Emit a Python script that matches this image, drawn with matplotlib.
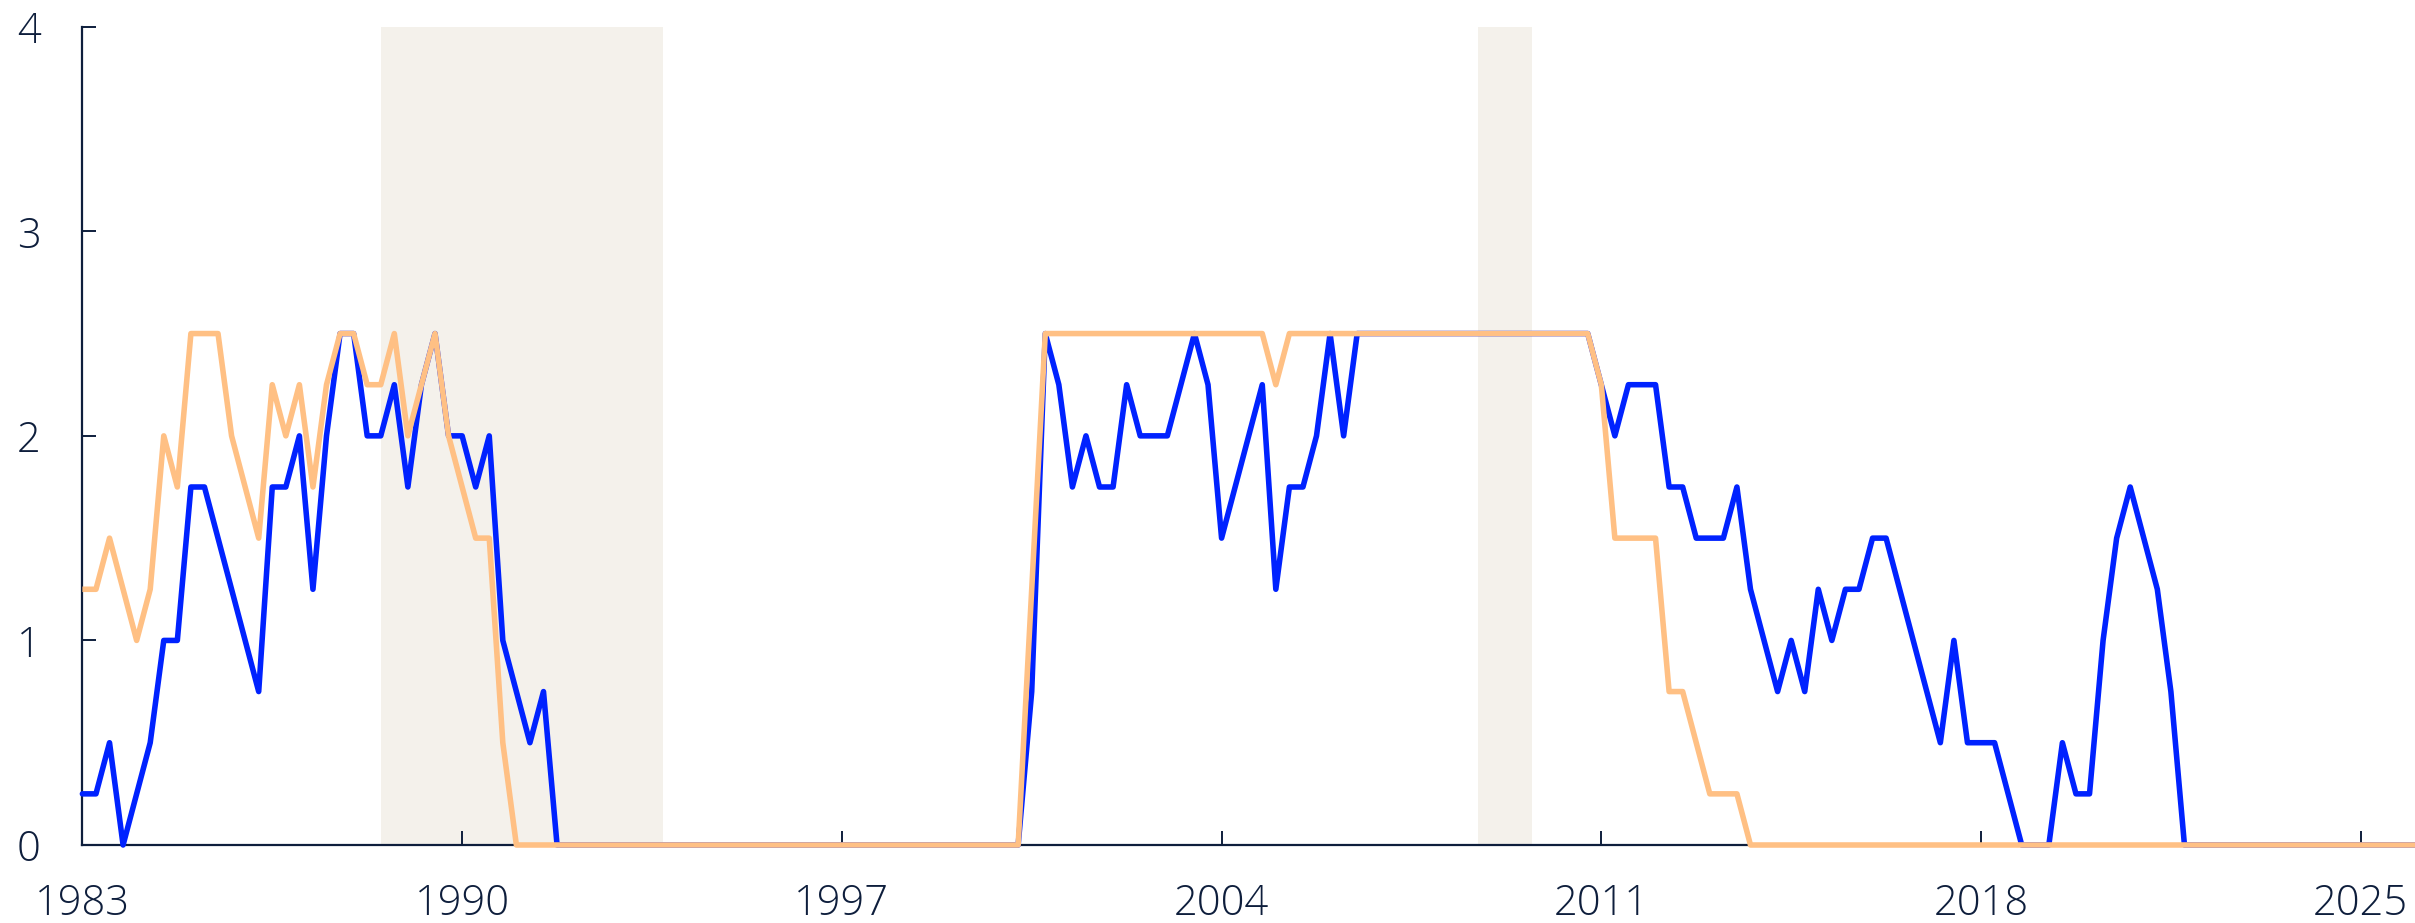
import matplotlib
matplotlib.use("Agg")
import matplotlib.pyplot as plt
import numpy as np

# Quarterly values, 1983 Q1 .. 2026 Q1 (four values per year)
blue_by_year = {
    1983: [0.25, 0.25, 0.5, 0.0],
    1984: [0.25, 0.5, 1.0, 1.0],
    1985: [1.75, 1.75, 1.5, 1.25],
    1986: [1.0, 0.75, 1.75, 1.75],
    1987: [2.0, 1.25, 2.0, 2.5],
    1988: [2.5, 2.0, 2.0, 2.25],
    1989: [1.75, 2.25, 2.5, 2.0],
    1990: [2.0, 1.75, 2.0, 1.0],
    1991: [0.75, 0.5, 0.75, 0.0],
    1992: [0, 0, 0, 0],
    1993: [0, 0, 0, 0],
    1994: [0, 0, 0, 0],
    1995: [0, 0, 0, 0],
    1996: [0, 0, 0, 0],
    1997: [0, 0, 0, 0],
    1998: [0, 0, 0, 0],
    1999: [0, 0, 0, 0],
    2000: [0.0, 0.0, 0.75, 2.5],
    2001: [2.25, 1.75, 2.0, 1.75],
    2002: [1.75, 2.25, 2.0, 2.0],
    2003: [2.0, 2.25, 2.5, 2.25],
    2004: [1.5, 1.75, 2.0, 2.25],
    2005: [1.25, 1.75, 1.75, 2.0],
    2006: [2.5, 2.0, 2.5, 2.5],
    2007: [2.5, 2.5, 2.5, 2.5],
    2008: [2.5, 2.5, 2.5, 2.5],
    2009: [2.5, 2.5, 2.5, 2.5],
    2010: [2.5, 2.5, 2.5, 2.5],
    2011: [2.25, 2.0, 2.25, 2.25],
    2012: [2.25, 1.75, 1.75, 1.5],
    2013: [1.5, 1.5, 1.75, 1.25],
    2014: [1.0, 0.75, 1.0, 0.75],
    2015: [1.25, 1.0, 1.25, 1.25],
    2016: [1.5, 1.5, 1.25, 1.0],
    2017: [0.75, 0.5, 1.0, 0.5],
    2018: [0.5, 0.5, 0.25, 0.0],
    2019: [0.0, 0.0, 0.5, 0.25],
    2020: [0.25, 1.0, 1.5, 1.75],
    2021: [1.5, 1.25, 0.75, 0.0],
    2022: [0, 0, 0, 0],
    2023: [0, 0, 0, 0],
    2024: [0, 0, 0, 0],
    2025: [0, 0, 0, 0],
    2026: [0],
}

orange_by_year = {
    1983: [1.25, 1.25, 1.5, 1.25],
    1984: [1.0, 1.25, 2.0, 1.75],
    1985: [2.5, 2.5, 2.5, 2.0],
    1986: [1.75, 1.5, 2.25, 2.0],
    1987: [2.25, 1.75, 2.25, 2.5],
    1988: [2.5, 2.25, 2.25, 2.5],
    1989: [2.0, 2.25, 2.5, 2.0],
    1990: [1.75, 1.5, 1.5, 0.5],
    1991: [0, 0, 0, 0],
    1992: [0, 0, 0, 0],
    1993: [0, 0, 0, 0],
    1994: [0, 0, 0, 0],
    1995: [0, 0, 0, 0],
    1996: [0, 0, 0, 0],
    1997: [0, 0, 0, 0],
    1998: [0, 0, 0, 0],
    1999: [0, 0, 0, 0],
    2000: [0.0, 0.0, 1.25, 2.5],
    2001: [2.5, 2.5, 2.5, 2.5],
    2002: [2.5, 2.5, 2.5, 2.5],
    2003: [2.5, 2.5, 2.5, 2.5],
    2004: [2.5, 2.5, 2.5, 2.5],
    2005: [2.25, 2.5, 2.5, 2.5],
    2006: [2.5, 2.5, 2.5, 2.5],
    2007: [2.5, 2.5, 2.5, 2.5],
    2008: [2.5, 2.5, 2.5, 2.5],
    2009: [2.5, 2.5, 2.5, 2.5],
    2010: [2.5, 2.5, 2.5, 2.5],
    2011: [2.25, 1.5, 1.5, 1.5],
    2012: [1.5, 0.75, 0.75, 0.5],
    2013: [0.25, 0.25, 0.25, 0.0],
    2014: [0, 0, 0, 0],
    2015: [0, 0, 0, 0],
    2016: [0, 0, 0, 0],
    2017: [0, 0, 0, 0],
    2018: [0, 0, 0, 0],
    2019: [0, 0, 0, 0],
    2020: [0, 0, 0, 0],
    2021: [0, 0, 0, 0],
    2022: [0, 0, 0, 0],
    2023: [0, 0, 0, 0],
    2024: [0, 0, 0, 0],
    2025: [0, 0, 0, 0],
    2026: [0],
}

shaded_periods = [(1988.5, 1993.7), (2008.72, 2009.72)]
x_ticks = [1983, 1990, 1997, 2004, 2011, 2018, 2025]
y_ticks = [0, 1, 2, 3, 4]

def flatten(d):
    xs, ys = [], []
    for yr, vals in d.items():
        for q, v in enumerate(vals):
            xs.append(yr + q * 0.25)
            ys.append(v)
    return np.array(xs), np.array(ys)

bx, by = flatten(blue_by_year)
ox, oy = flatten(orange_by_year)

BLUE = "#0022FF"
ORANGE = "#FFC084"
SHADE = "#F4F1EB"
NAVY = "#0E1E3C"

plt.rcParams['font.family'] = ['Open Sans', 'DejaVu Sans']

fig = plt.figure(figsize=(24.15, 9.23), dpi=100)
ax = fig.add_axes([82.4 / 2415, 1 - 845 / 923, 1 - 82.4 / 2415, (845 - 26.7) / 923])

for a, b in shaded_periods:
    ax.axvspan(a, b, color=SHADE, lw=0, zorder=0)

ax.plot(bx, by, color=BLUE, lw=4.0, solid_joinstyle='round', solid_capstyle='round', clip_on=False, zorder=3)
ax.plot(ox, oy, color=ORANGE, lw=4.0, solid_joinstyle='round', solid_capstyle='butt', clip_on=False, zorder=4)

ax.set_xlim(1983, 2026)
ax.set_ylim(0, 4)
ax.set_xticks(x_ticks)
ax.set_yticks(y_ticks)
ax.set_xticklabels([str(t) for t in x_ticks])
ax.set_yticklabels([str(t) for t in y_ticks])

for s in ['top', 'right']:
    ax.spines[s].set_visible(False)
for s in ['left', 'bottom']:
    ax.spines[s].set_color(NAVY)
    ax.spines[s].set_linewidth(1.6)
    ax.spines[s].set_zorder(2)

ax.tick_params(axis='both', direction='in', length=10, width=1.4, color=NAVY,
               labelcolor=NAVY, labelsize=30)
ax.tick_params(axis='x', pad=27)
ax.tick_params(axis='y', pad=30)
for lab in ax.get_xticklabels() + ax.get_yticklabels():
    lab.set_fontweight('light')

fig.savefig("out.png", dpi=100, facecolor='white')
